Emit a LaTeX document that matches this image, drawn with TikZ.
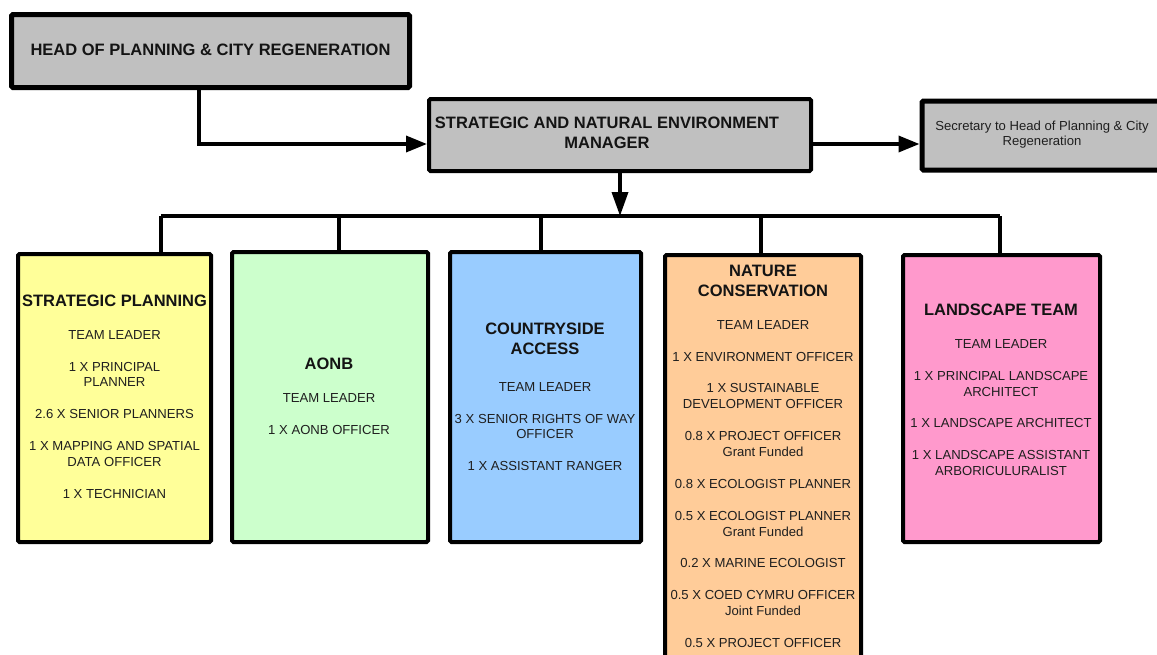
\documentclass[tikz,border=0pt]{standalone}
\usepackage{fontspec}
\setmainfont{Liberation Sans}
\usetikzlibrary{arrows.meta}
\definecolor{boxgray}{HTML}{C0C0C0}
\definecolor{spyellow}{HTML}{FFFF99}
\definecolor{aogreen}{HTML}{CCFFCC}
\definecolor{cablue}{HTML}{99CCFF}
\definecolor{ncorange}{HTML}{FFCC99}
\definecolor{ltpink}{HTML}{FF99CC}
\begin{document}
\begin{tikzpicture}[x=1pt,y=-1pt,
  box/.style={draw=black, line width=4pt, inner sep=0pt, rounded corners=1.5pt},
  conn/.style={line width=3.5pt},
  tip/.style={-{Triangle[length=21pt,width=16pt]}},
  small/.style={font=\fontsize{13.1}{15.5}\selectfont, align=center, text=black!88, inner sep=0pt},
  ttl/.style={font=\bfseries\fontsize{16.5}{20}\selectfont, align=center, text=black!92, inner sep=0pt}
]
\clip (0,0) rectangle (1157,654);
\fill[white] (0,0) rectangle (1157,654);

% top boxes
\node[box, line width=5pt, fill=boxgray, minimum width=398pt, minimum height=73pt] (head) at (210.5,51) {};
\node[ttl] (headt) at (210.5,50) {HEAD OF PLANNING \& CITY REGENERATION};

\node[box, fill=boxgray, minimum width=382pt, minimum height=72pt] (mgr) at (620,135) {};
\node[ttl] (mgrt) at (607,133) {STRATEGIC AND NATURAL ENVIRONMENT\\MANAGER};

\node[box, line width=5pt, fill=boxgray, minimum width=268pt, minimum height=69pt] (sec) at (1056,135.5) {};
\node[small] (sect) at (1042,134.5) {Secretary to Head of Planning \& City\\Regeneration};

% team boxes
\node[box, fill=spyellow, minimum width=193pt, minimum height=288pt] (sp) at (114.5,398) {};
\node[box, fill=aogreen, minimum width=196pt, minimum height=290pt] (ao) at (330,397) {};
\node[box, fill=cablue, minimum width=191pt, minimum height=290pt] (ca) at (545.5,397) {};
\node[box, fill=ncorange, minimum width=196pt, minimum height=465pt] (nc) at (763,487.5) {};
\node[box, fill=ltpink, minimum width=197pt, minimum height=287pt] (lt) at (1001.5,398.5) {};

% connectors
\coordinate (hx) at (199,144);
\draw[conn, tip] (head.south -| hx) |- (mgr.west |- hx);
\draw[conn, tip] (mgr.east |- hx) -- (sec.west |- hx);
\coordinate (busL) at (161,216);
\coordinate (busR) at (1000,216);
\draw[conn] (busL) -- (busR);
\draw[conn, -{Triangle[length=24pt,width=16pt]}] (mgr.south) -- (mgr.south |- busL);
\coordinate (d2) at (339,216);
\coordinate (d3) at (541,216);
\coordinate (d4) at (761,216);
\draw[conn] (busL) -- (busL |- sp.north);
\draw[conn] (d2) -- (d2 |- ao.north);
\draw[conn] (d3) -- (d3 |- ca.north);
\draw[conn] (d4) -- (d4 |- nc.north);
\draw[conn] (busR) -- (busR |- lt.north);

% strategic planning
\node[ttl] (sp0) at (114.5,301) {STRATEGIC PLANNING};
\node[small] (sp1) at (114.5,335) {TEAM LEADER};
\node[small] (sp2) at (114.5,374.5) {1 X PRINCIPAL\\PLANNER};
\node[small] (sp3) at (114.5,414) {2.6 X SENIOR PLANNERS};
\node[small] (sp4) at (114.5,454) {1 X MAPPING AND SPATIAL\\DATA OFFICER};
\node[small] (sp5) at (114.5,494) {1 X TECHNICIAN};

% AONB
\node[ttl] (ao0) at (329,364) {AONB};
\node[small] (ao1) at (329,397.5) {TEAM LEADER};
\node[small] (ao2) at (329,430) {1 X AONB OFFICER};

% countryside
\node[ttl] (ca0) at (545,339) {COUNTRYSIDE\\ACCESS};
\node[small] (ca1) at (545,387) {TEAM LEADER};
\node[small] (ca2) at (545,426.5) {3 X SENIOR RIGHTS OF WAY\\OFFICER};
\node[small] (ca3) at (545,466) {1 X ASSISTANT RANGER};

% nature conservation
\node[ttl] (nc0) at (763,281) {NATURE\\CONSERVATION};
\node[small] (nc1) at (763,325) {TEAM LEADER};
\node[small] (nc2) at (763,357) {1 X ENVIRONMENT OFFICER};
\node[small] (nc3) at (763,396) {1 X SUSTAINABLE\\DEVELOPMENT OFFICER};
\node[small] (nc4) at (763,444) {0.8 X PROJECT OFFICER\\Grant Funded};
\node[small] (nc5) at (763,484) {0.8 X ECOLOGIST PLANNER};
\node[small] (nc6) at (763,524) {0.5 X ECOLOGIST PLANNER\\Grant Funded};
\node[small] (nc7) at (763,563) {0.2 X MARINE ECOLOGIST};
\node[small] (nc8) at (763,603) {0.5 X COED CYMRU OFFICER\\Joint Funded};
\node[small] (nc9) at (763,643) {0.5 X PROJECT OFFICER};

% landscape
\node[ttl] (lt0) at (1001,310) {LANDSCAPE TEAM};
\node[small] (lt1) at (1001,344) {TEAM LEADER};
\node[small] (lt2) at (1001,384) {1 X PRINCIPAL LANDSCAPE\\ARCHITECT};
\node[small] (lt3) at (1001,423) {1 X LANDSCAPE ARCHITECT};
\node[small] (lt4) at (1001,463) {1 X LANDSCAPE ASSISTANT\\ARBORICULURALIST};
\end{tikzpicture}
\end{document}
